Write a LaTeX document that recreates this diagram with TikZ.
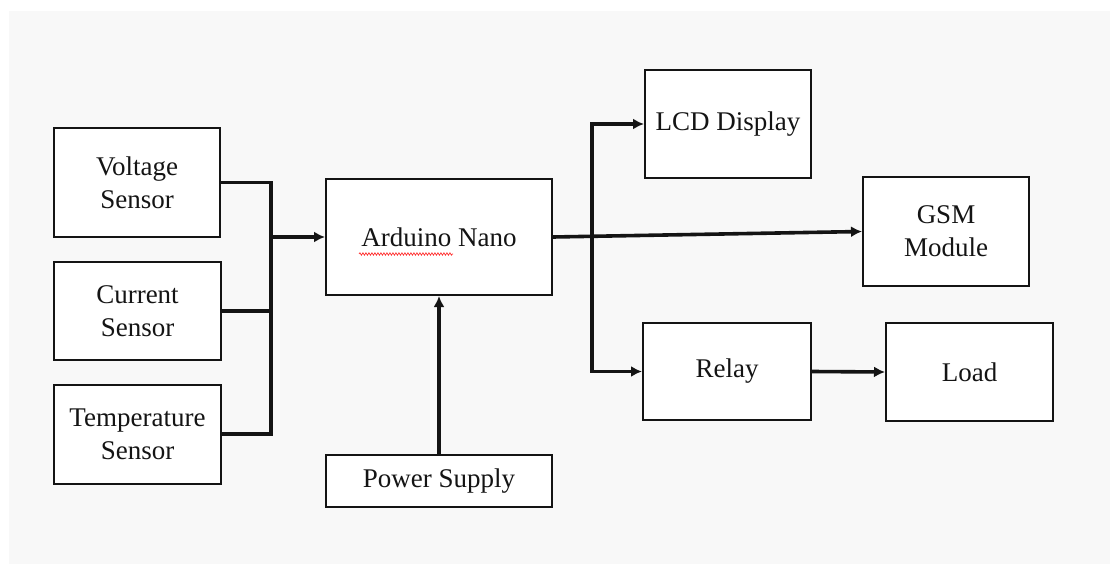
\documentclass[tikz,border=0pt]{standalone}
\usepackage{fontspec}
\setmainfont{Liberation Serif}
\usetikzlibrary{arrows.meta,decorations.pathmorphing}
\definecolor{bggray}{HTML}{F8F8F8}
\definecolor{ink}{HTML}{141414}
\tikzset{
  blockbox/.style={draw=ink, line width=2pt, fill=white, inner sep=0pt, align=center,
    text=ink, font=\fontsize{27}{33}\selectfont},
  wire/.style={draw=ink, line width=3.6pt},
  arrowwire/.style={wire, -{Latex[length=11pt,width=11pt]}},
}
\begin{document}
\begin{tikzpicture}[x=1pt,y=-1pt]
\useasboundingbox (0,0) rectangle (1110,564);
\fill[white] (0,0) rectangle (1110,564);
\fill[bggray] (9,11) rectangle (1110,564);

\node[blockbox, minimum width=166pt, minimum height=109pt] (volt) at (137,182.5) {Voltage\\Sensor};
\node[blockbox, minimum width=167pt, minimum height=98pt] (curr) at (137.5,311) {Current\\Sensor};
\node[blockbox, minimum width=167pt, minimum height=99pt] (temp) at (137.5,434) {Temperature\\Sensor};
\node[blockbox, minimum width=226pt, minimum height=116pt] (ard) at (439,237) {Arduino Nano};
\node[blockbox, minimum width=226pt, minimum height=52pt] (pwr) at (439,481) {Power Supply};
\node[blockbox, minimum width=166pt, minimum height=108pt] (lcd) at (728,124) {LCD Display};
\node[blockbox, minimum width=166pt, minimum height=109pt] (gsm) at (946,231.5) {GSM\\Module};
\node[blockbox, minimum width=168pt, minimum height=97pt] (relay) at (727,371.5) {Relay};
\node[blockbox, minimum width=167pt, minimum height=98pt] (load) at (969.5,372) {Load};

% spell-check squiggle under "Arduino"
\draw[red!80!white, line width=0.7pt, decorate, decoration={snake, amplitude=1.2pt, segment length=3pt}] (359,254) -- (453,254);

% input bus
\coordinate (bus) at (271,237);
\draw[wire] (volt.east) -| (bus);
\draw[wire] (temp.east) -| (bus);
\draw[wire] (curr.east) -- (curr.east -| bus);
\draw[arrowwire] (bus) -- (ard.west);

% power
\draw[arrowwire] (pwr.north) -- (ard.south);

% outputs
\coordinate (br) at (592,236);
\draw[arrowwire] (ard.east) -- (gsm.west);
\draw[arrowwire] (br) |- (lcd.west);
\draw[arrowwire] (br) |- (relay.west);
\draw[arrowwire] (relay.east) -- (load.west);
\end{tikzpicture}
\end{document}
